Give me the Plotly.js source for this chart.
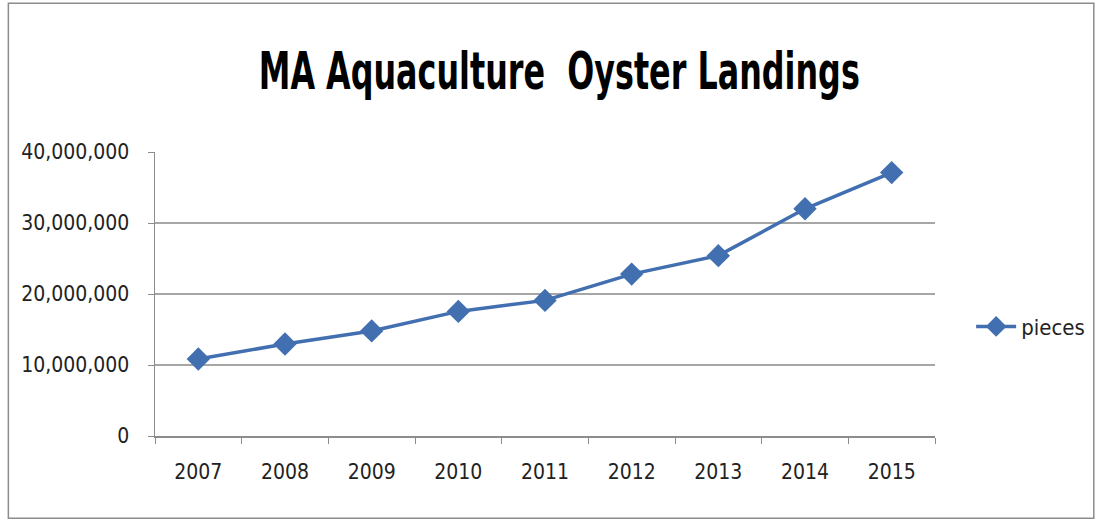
<!DOCTYPE html>
<html>
<head>
<meta charset="utf-8">
<script src="https://cdn.plot.ly/plotly-3.0.1.min.js"></script>
<style>
  html, body { margin: 0; padding: 0; background: #ffffff; }
  #chart { width: 1101px; height: 521px; }
  #chart .gtitle {
    transform-box: fill-box;
    transform-origin: center;
    transform: scaleX(0.68);
  }
</style>
</head>
<body>
<div id="chart"></div>
<script>
const years = ["2007", "2008", "2009", "2010", "2011", "2012", "2013", "2014", "2015"];
const pieces = [10850000, 12950000, 14800000, 17550000, 19100000, 22800000, 25400000, 32000000, 37100000];
const yTickVals = [0, 10000000, 20000000, 30000000, 40000000];
const yTickText = ["0", "10,000,000", "20,000,000", "30,000,000", "40,000,000"];
const seriesName = "pieces";
const chartTitle = "MA Aquaculture&nbsp;&nbsp;Oyster Landings";

const FONT = "'Liberation Sans Narrow', 'DejaVu Sans Condensed', 'Roboto', sans-serif";

const trace = {
  x: years,
  y: pieces,
  name: seriesName,
  type: "scatter",
  mode: "lines+markers",
  line: { color: "#416fb0", width: 3.5 },
  marker: { symbol: "diamond", size: 18, color: "#416fb0", line: { width: 0 } }
};

const layout = {
  width: 1101,
  height: 521,
  paper_bgcolor: "#ffffff",
  plot_bgcolor: "#ffffff",
  margin: { l: 155, r: 165, t: 152, b: 85 },
  title: {
    text: chartTitle,
    font: { family: FONT, size: 52, color: "#000000", weight: "bold" },
    x: 0.508, xanchor: "center",
    y: 0.865, yanchor: "middle"
  },
  font: { family: FONT, color: "#222222" },
  xaxis: {
    type: "category",
    range: [-0.5, 8.5],
    showgrid: false,
    zeroline: false,
    showline: true,
    linecolor: "#8c8c8c",
    linewidth: 1.5,
    ticks: "outside",
    tickson: "boundaries",
    ticklen: 6,
    tickcolor: "#8c8c8c",
    tickfont: { family: FONT, size: 21, color: "#222222" },
    ticklabelstandoff: 16
  },
  yaxis: {
    range: [0, 40000000],
    tickvals: yTickVals,
    ticktext: yTickText,
    showgrid: true,
    gridcolor: "#a6a6a6",
    gridwidth: 1.6,
    zeroline: false,
    showline: true,
    linecolor: "#8c8c8c",
    linewidth: 1.5,
    ticks: "outside",
    ticklen: 6,
    tickcolor: "#8c8c8c",
    tickfont: { family: FONT, size: 21, color: "#222222" },
    ticklabelstandoff: 14
  },
  showlegend: true,
  legend: {
    x: 1.045, xanchor: "left",
    y: 0.385, yanchor: "middle",
    font: { family: FONT, size: 22, color: "#222222" },
    itemwidth: 40,
    bgcolor: "rgba(0,0,0,0)"
  },
  shapes: [{
    type: "rect", xref: "paper", yref: "paper",
    x0: -0.188, x1: 1.2036, y0: -0.29, y1: 1.5237,
    line: { color: "#8c8c8c", width: 1.5 },
    fillcolor: "rgba(0,0,0,0)",
    layer: "below"
  }]
};

Plotly.newPlot("chart", [trace], layout, { displayModeBar: false, staticPlot: true });
</script>
</body>
</html>
